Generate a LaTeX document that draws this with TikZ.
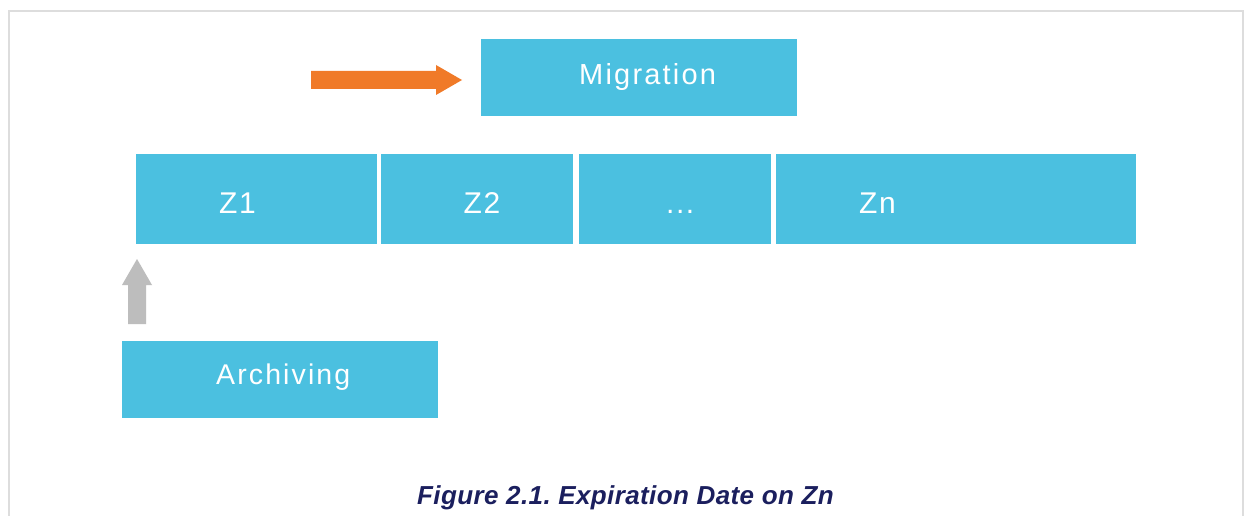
\documentclass[tikz,border=0pt]{standalone}
\usepackage{fontspec}
\setmainfont{Liberation Sans}
\newfontfamily\migfont[LetterSpace=7.6]{Liberation Sans}
\newfontfamily\zfont[LetterSpace=5.0]{Liberation Sans}
\newfontfamily\archfont[LetterSpace=7.4]{Liberation Sans}
\newfontfamily\capfont[LetterSpace=1.5]{Liberation Sans}
\definecolor{boxblue}{HTML}{4BC0E0}
\definecolor{arrorange}{HTML}{F07A28}
\definecolor{arrgray}{HTML}{BDBDBD}
\definecolor{framegray}{HTML}{DDDDDD}
\definecolor{capnavy}{HTML}{1B1F5E}
\begin{document}
\frenchspacing
\begin{tikzpicture}[x=1pt,y=-1pt,
  blk/.style={fill=boxblue,draw=none},
  lbl/.style={text=white,inner sep=0pt,anchor=base west}]
\useasboundingbox (0,0) rectangle (1250,516);
\fill[white] (0,0) rectangle (1250,516);
% frame
\draw[framegray,line width=1.5pt] (9,530) -- (9,11) -- (1243,11) -- (1243,530);
% boxes
\fill[blk] (481,39) rectangle (797,116);
\node[lbl,font=\migfont\fontsize{29}{32}\selectfont] (mig) at (579,84.8) {Migration};
\fill[blk] (136,154) rectangle (377,244);
\node[lbl,font=\zfont\fontsize{30}{33}\selectfont] (z1) at (219,213.3) {Z1};
\fill[blk] (381,154) rectangle (573,244);
\node[lbl,font=\zfont\fontsize{30}{33}\selectfont] (z2) at (463.5,213.3) {Z2};
\fill[blk] (579,154) rectangle (771,244);
\node[lbl,font=\zfont\fontsize{30}{33}\selectfont] (zd) at (666,213.3) {...};
\fill[blk] (776,154) rectangle (1136,244);
\node[lbl,font=\zfont\fontsize{30}{33}\selectfont] (zn) at (859,213.3) {Zn};
\fill[blk] (122,341) rectangle (438,418);
\node[lbl,font=\archfont\fontsize{28.5}{31}\selectfont] (arch) at (216,384.8) {Archiving};
% orange arrow
\fill[arrorange] (311,71) -- (436,71) -- (436,65) -- (462,80) -- (436,95) -- (436,89) -- (311,89) -- cycle;
% gray arrow
\fill[arrgray] (128,324) -- (128,285) -- (122,285) -- (137,259) -- (152,285) -- (146,285) -- (146,324) -- cycle;
% caption
\node[lbl,text=capnavy,font=\capfont\bfseries\itshape\fontsize{26}{30}\selectfont] (cap) at (417,504.3) {Figure 2.1. Expiration Date on Zn};
\end{tikzpicture}
\end{document}
